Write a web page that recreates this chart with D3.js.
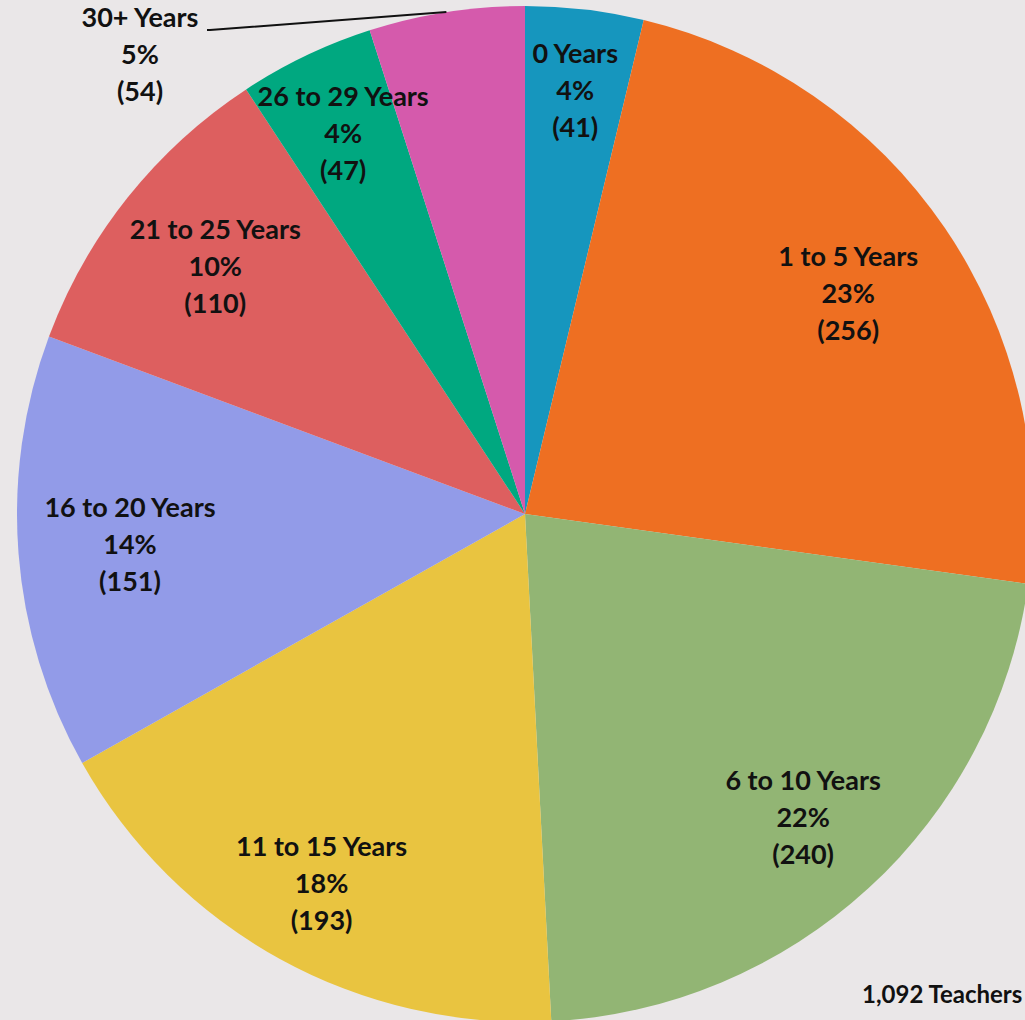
<!DOCTYPE html>
<html><head><meta charset="utf-8">
<script src="https://cdn.jsdelivr.net/npm/d3@7"></script>
<style>
html,body{margin:0;padding:0;background:#EAE7E8;overflow:hidden}
svg{display:block}
text{font-family:Lato,"Open Sans",sans-serif;font-weight:bold;fill:#111}
</style></head><body>
<svg id="chart" width="1025" height="1020"></svg>
<script>
const categories = ["0 Years","1 to 5 Years","6 to 10 Years","11 to 15 Years","16 to 20 Years","21 to 25 Years","26 to 29 Years","30+ Years"];
const counts = [41,256,240,193,151,110,47,54];
const percents = ["4%","23%","22%","18%","14%","10%","4%","5%"];
const colors = ["#1696BE","#EE6F22","#92B574","#E9C440","#929BE8","#DD5F5F","#00A880","#D55AAC"];
const totalLabel = "1,092 Teachers";
// label radius as fraction of pie radius (layout)
const labelRadius = [0.84,0.77,0.81,0.83,0.78,0.78,0.83,null];

const W=1025,H=1020,cx=525,cy=514,R=508;
const svg=d3.select("#chart");
svg.append("rect").attr("width",W).attr("height",H).attr("fill","#EAE7E8");
const g=svg.append("g").attr("transform",`translate(${cx},${cy})`);
const pie=d3.pie().sort(null).value(d=>d)(counts);
const arc=d3.arc().innerRadius(0).outerRadius(R);
g.selectAll("path").data(pie).join("path").attr("d",arc).attr("fill",(d,i)=>colors[i]);

const fs=27, lh=37;
function label(x,y,i){
  const t=g.append("text").attr("text-anchor","middle").attr("font-size",fs);
  [categories[i],percents[i],"("+counts[i]+")"].forEach((s,k)=>{
    t.append("tspan").attr("x",x).attr("y",y+(k-1)*lh).attr("dy","0.35em").text(s);
  });
}
pie.forEach((d,i)=>{
  const a=(d.startAngle+d.endAngle)/2;
  if(labelRadius[i]!==null){
    const r=R*labelRadius[i];
    label(r*Math.sin(a),-r*Math.cos(a),i);
  } else {
    // outside label with leader line
    const px=R*Math.sin(a), py=-R*Math.cos(a);
    const lx=-385, ly=-459;
    label(lx,ly,i);
    g.append("path").attr("d",`M${px},${py}L${lx+70},${ly-25}L${lx+67},${ly-25}`)
      .attr("fill","none").attr("stroke","#111").attr("stroke-width",2);
  }
});
svg.append("text").attr("x",862).attr("y",1003).attr("font-size",24).text(totalLabel);
</script></body></html>
